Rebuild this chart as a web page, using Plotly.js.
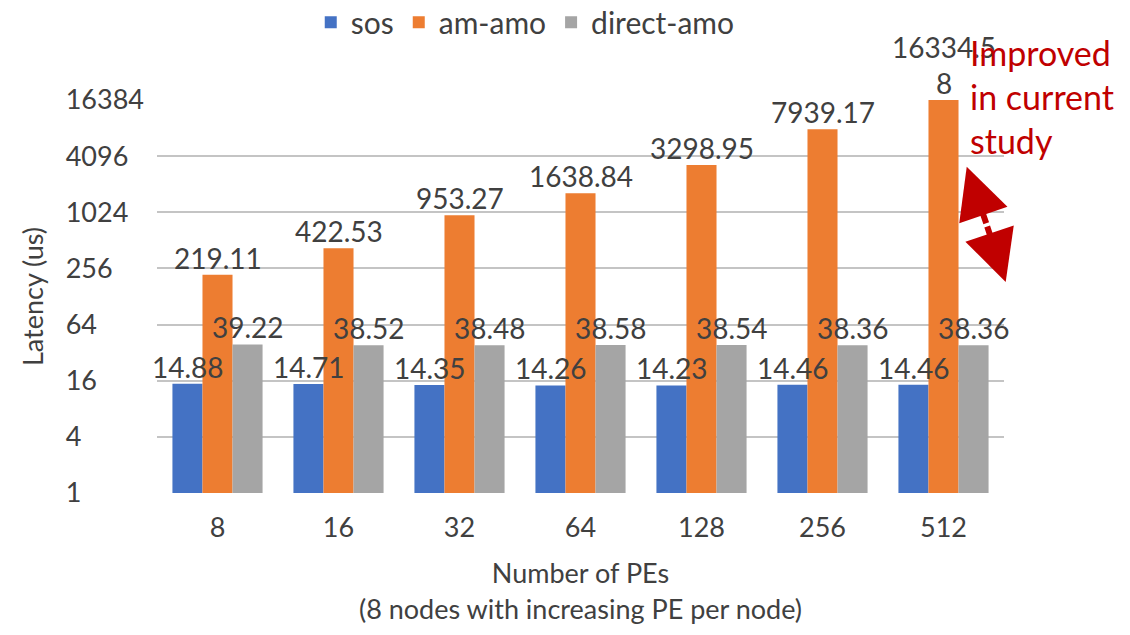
<!DOCTYPE html>
<html>
<head>
<meta charset="utf-8">
<script src="https://cdn.plot.ly/plotly-3.0.1.min.js"></script>
<style>html,body{margin:0;padding:0;background:#fff;}#chart{width:1130px;height:635px;}</style>
</head>
<body>
<div id="chart"></div>
<script>
const categories = ["8", "16", "32", "64", "128", "256", "512"];
const sosValues = [14.88, 14.71, 14.35, 14.26, 14.23, 14.46, 14.46];
const amAmoValues = [219.11, 422.53, 953.27, 1638.84, 3298.95, 7939.17, 16334.58];
const directAmoValues = [39.22, 38.52, 38.48, 38.58, 38.54, 38.36, 38.36];
const amAmoLabels = ["219.11", "422.53", "953.27", "1638.84", "3298.95", "7939.17", "16334.5<br>8"];
const yTickValues = [1, 4, 16, 64, 256, 1024, 4096, 16384];
const seriesNames = ["sos", "am-amo", "direct-amo"];
const seriesColors = ["#4472C4", "#ED7D31", "#A5A5A5"];

const FONT = "Lato, 'Open Sans', sans-serif";
const TXT = "#404040";
const labelFont = {family: FONT, size: 28, color: TXT};

const seriesVals = [sosValues, amAmoValues, directAmoValues];
const seriesLabels = [sosValues.map(v => v.toFixed(2)), amAmoLabels, directAmoValues.map(v => v.toFixed(2))];

// left-aligned tick labels: pad with figure spaces to equal digit count
const FIG = "\u2007";
const yTickText = yTickValues.map(v => {
  const s = String(v);
  return s + FIG.repeat(5 - s.length);
});

const data = seriesNames.map((n, s) => ({
  type: "bar", name: n, x: categories, y: seriesVals[s],
  marker: {color: seriesColors[s]}, hoverinfo: "x+y"
}));

// data labels as annotations so they are drawn on top of all bars
const barOffsetPx = 30;
const labelAnns = [];
seriesVals.forEach((vals, s) => {
  vals.forEach((v, i) => {
    labelAnns.push({
      xref: "x", yref: "y", x: i, y: Math.log10(v),
      xshift: (s - 1) * barOffsetPx, yanchor: "bottom", yshift: -2,
      text: seriesLabels[s][i], showarrow: false, font: labelFont
    });
  });
});

const layout = {
  width: 1130, height: 635,
  margin: {l: 157, r: 126, t: 100, b: 142, autoexpand: false},
  paper_bgcolor: "#fff", plot_bgcolor: "#fff",
  barmode: "group", bargap: 0.255, bargroupgap: 0,
  font: {family: FONT, color: TXT},
  showlegend: true,
  legend: {orientation: "h", xref: "container", x: 0.275, xanchor: "left",
           yref: "container", y: 0.965, yanchor: "middle",
           font: {family: FONT, size: 30, color: TXT}, itemwidth: 30, traceorder: "normal"},
  xaxis: {
    type: "category", range: [-0.5, categories.length - 0.5], autorange: false,
    showgrid: false, zeroline: false, showline: false,
    ticks: "", ticklabelstandoff: 16, tickfont: {family: FONT, size: 27, color: TXT},
    title: {text: "Number of PEs<br>(8 nodes with increasing PE per node)",
            font: {family: FONT, size: 27, color: TXT}, standoff: 22}
  },
  yaxis: {
    type: "log", range: [0, Math.log10(16384)],
    tickvals: yTickValues, ticktext: yTickText,
    showgrid: true, gridcolor: "#C4C4C4", gridwidth: 2,
    zeroline: false, showline: false, ticks: "", ticklen: 0, ticklabelstandoff: 12,
    tickfont: {family: FONT, size: 27, color: TXT},
    title: {text: "Latency (us)", font: {family: FONT, size: 27, color: TXT}, standoff: 14}
  },
  annotations: labelAnns.concat([
    {xref: "paper", yref: "paper", x: 0.957, y: 1.178, xanchor: "left", yanchor: "top",
     align: "left", showarrow: false,
     text: "Improved<br>in current<br>study",
     font: {family: FONT, size: 34, color: "#C00000"}},
    {xref: "paper", yref: "paper", x: 0.956, y: 0.830, text: "", showarrow: true,
     ax: 20, ay: 58, arrowhead: 2, arrowsize: 1.7, arrowwidth: 6, arrowcolor: "#C00000", standoff: 0},
    {xref: "paper", yref: "paper", x: 1.002, y: 0.537, text: "", showarrow: true,
     ax: -19, ay: -57, arrowhead: 2, arrowsize: 1.7, arrowwidth: 6, arrowcolor: "#C00000", standoff: 0}
  ])
};

Plotly.newPlot("chart", data, layout, {displayModeBar: false, responsive: false});
</script>
</body>
</html>
